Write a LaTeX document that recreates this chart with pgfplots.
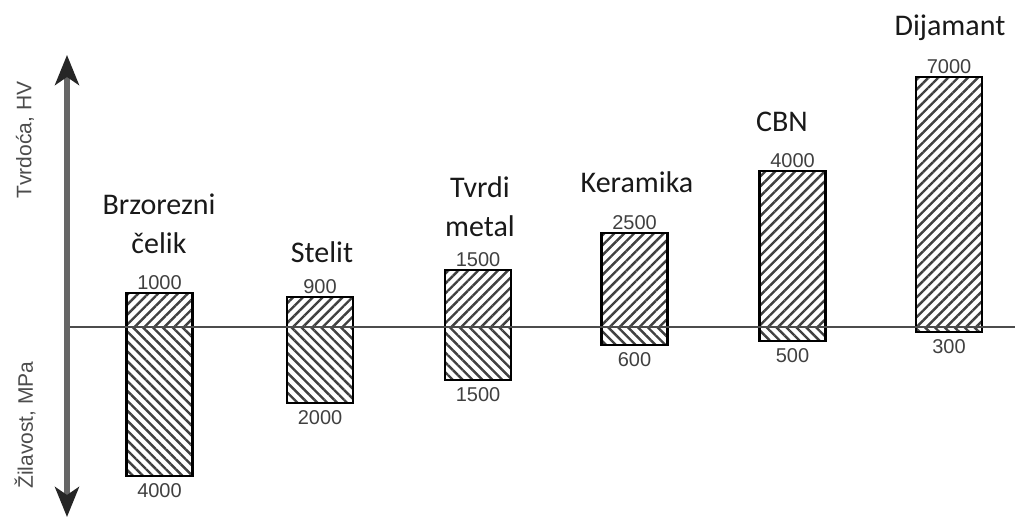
\documentclass[border=0pt]{standalone}
\usepackage{pgfplots}
\pgfplotsset{compat=1.18}
\usepackage{pgfplotstable}
\usepackage{fontspec}
\setmainfont{Carlito}
\newfontfamily\arial{Liberation Sans}
\usetikzlibrary{patterns.meta,arrows.meta}

% x = bar centre, up/down = drawn height above/below the base line,
% ht/hb = the printed values (Tvrdoca HV / Zilavost MPa)
\pgfplotstableread{
x      up   down  ht    hb
159.5  34   -149  1000  4000
320    30   -76   900   2000
478    57   -53   1500  1500
634.5  94   -18   2500  600
792.5  156  -14   4000  500
949    250  -5    7000  300
}\materials

\begin{document}
\begin{tikzpicture}
\begin{axis}[scale only axis,
             width=507.5pt, height=260.5pt,
             xmin=0, xmax=1015, ymin=-194, ymax=327,
             hide axis, clip=false,
             point meta=explicit symbolic,
             every node near coord/.append style={font=\arial\fontsize{10}{10}\selectfont,
                                                  text=black!75, inner sep=1pt}]
  % hardness (up)
  \addplot[ybar, bar width=33pt, bar shift=0pt, draw=black, line width=1.1pt,
           pattern={Lines[angle=45,distance=3.5pt,line width=1.2pt]}, pattern color=black!75,
           nodes near coords,
           every node near coord/.append style={anchor=south}]
    table[x=x, y=up, meta=ht] {\materials};
  % toughness (down)
  \addplot[ybar, bar width=33pt, bar shift=0pt, draw=black, line width=1.1pt,
           pattern={Lines[angle=-45,distance=3.5pt,line width=1.2pt]}, pattern color=black!75,
           nodes near coords,
           every node near coord/.append style={anchor=north, yshift=-2pt}]
    table[x=x, y=down, meta=hb] {\materials};
  % base line and double arrow
  \addplot[sharp plot, no marks, black!70, line width=1.3pt] coordinates {(67,0) (1015,0)};
  \addplot[sharp plot, no marks, black!60, line width=2.6pt,
           {Stealth[length=15pt,width=12pt,inset=4pt,black!85]}-{Stealth[length=15pt,width=12pt,inset=4pt,black!85]}]
    coordinates {(67,272) (67,-190)};

  \node[font=\arial\fontsize{10.5}{10.5}\selectfont, text=black!70, rotate=90] at (axis cs:25,187) {Tvrdoća, HV};
  \node[font=\arial\fontsize{10.5}{10.5}\selectfont, text=black!70, rotate=90] at (axis cs:25,-98) {Žilavost, MPa};

  \begin{scope}[every node/.style={font=\fontsize{15}{19.5}\selectfont, text=black!90, align=center}]
    \node at (axis cs:159,103) {Brzorezni\\čelik};
    \node at (axis cs:322,75) {Stelit};
    \node at (axis cs:480,120) {Tvrdi\\metal};
    \node at (axis cs:637,145) {Keramika};
    \node at (axis cs:782,205) {CBN};
    \node at (axis cs:950,299) {Dijamant};
  \end{scope}
\end{axis}
\pgfresetboundingbox
\path[use as bounding box] (current axis.south west) rectangle (current axis.north east);
\end{tikzpicture}
\end{document}
